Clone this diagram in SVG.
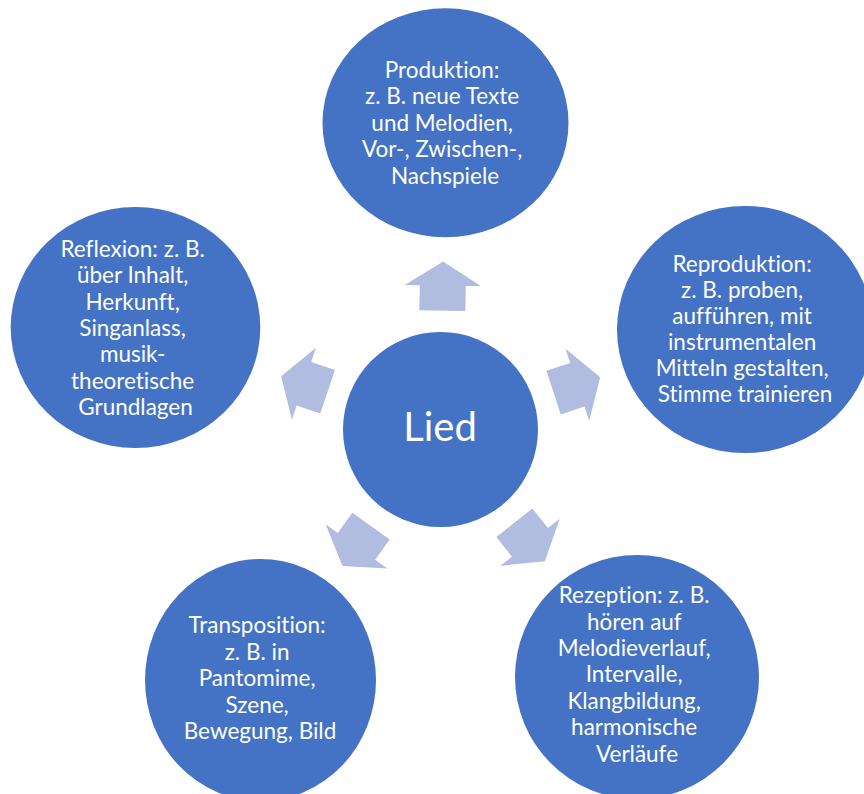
<svg xmlns="http://www.w3.org/2000/svg" width="864" height="794" viewBox="0 0 864 794">
  <defs>
    <style>
      .node { fill: #4472C4; }
      .arrow { fill: #B0BDE0; }
      .label { fill: #FFFFFF; font-family: Lato, "Open Sans", sans-serif; font-size: 22.5px; text-anchor: middle; font-variant-ligatures: none; }
      .hub { fill: #FFFFFF; font-family: Lato, "Open Sans", sans-serif; font-size: 40px; text-anchor: middle; font-variant-ligatures: none; }
    </style>
    <!-- block arrow pointing along +x, base 119px and tip 168px from the hub centre -->
    <polygon id="spoke" points="119,-23 144,-23 144,-38 168,0 144,38 144,23 119,23"/>
  </defs>

  <!-- connectors: block arrows from the hub toward each outer node -->
  <g id="connectors" class="arrow" transform="translate(440.5,429.5)">
    <use href="#spoke" transform="rotate(-89.1)"/>
    <use href="#spoke" transform="rotate(-18.1)"/>
    <use href="#spoke" transform="rotate(51.6)"/>
    <use href="#spoke" transform="rotate(125.7)"/>
    <use href="#spoke" transform="rotate(198.5)"/>
  </g>

  <g id="lied">
    <circle class="node" cx="440.5" cy="429.5" r="97.5"/>
    <text class="hub" x="440" y="441">Lied</text>
  </g>

  <g id="produktion">
    <ellipse class="node" cx="445.5" cy="122.8" rx="123" ry="114.5"/>
    <text class="label" x="445">
      <tspan x="445" y="78">Produktion:</tspan>
      <tspan x="445" y="104.4">z. B. neue Texte</tspan>
      <tspan x="445" y="130.8">und Melodien,</tspan>
      <tspan x="445" y="157.2">Vor-, Zwischen-,</tspan>
      <tspan x="445" y="183.6">Nachspiele</tspan>
    </text>
  </g>

  <g id="reproduktion">
    <ellipse class="node" cx="745" cy="329.5" rx="128" ry="123.5"/>
    <text class="label" x="745">
      <tspan x="745" y="271.7">Reproduktion:</tspan>
      <tspan x="745" y="297.8">z. B. proben,</tspan>
      <tspan x="745" y="323.8">aufführen, mit</tspan>
      <tspan x="745" y="349.9">instrumentalen</tspan>
      <tspan x="745" y="375.9">Mitteln gestalten,</tspan>
      <tspan x="745" y="402">Stimme trainieren</tspan>
    </text>
  </g>

  <g id="rezeption">
    <ellipse class="node" cx="637" cy="677" rx="122" ry="122"/>
    <text class="label" x="637">
      <tspan x="637" y="603.3">Rezeption: z. B.</tspan>
      <tspan x="637" y="629.7">hören auf</tspan>
      <tspan x="637" y="656">Melodieverlauf,</tspan>
      <tspan x="637" y="682.4">Intervalle,</tspan>
      <tspan x="637" y="708.8">Klangbildung,</tspan>
      <tspan x="637" y="735.2">harmonische</tspan>
      <tspan x="637" y="761.6">Verläufe</tspan>
    </text>
  </g>

  <g id="transposition">
    <ellipse class="node" cx="260.5" cy="680" rx="115.5" ry="121"/>
    <text class="label" x="260">
      <tspan x="260" y="633.3">Transposition:</tspan>
      <tspan x="260" y="659.8">z. B. in</tspan>
      <tspan x="260" y="686.3">Pantomime,</tspan>
      <tspan x="260" y="712.8">Szene,</tspan>
      <tspan x="260" y="739.3">Bewegung, Bild</tspan>
    </text>
  </g>

  <g id="reflexion">
    <ellipse class="node" cx="135.5" cy="327.5" rx="124.8" ry="120.5"/>
    <text class="label" x="135.5">
      <tspan x="135.5" y="256.7">Reflexion: z. B.</tspan>
      <tspan x="135.5" y="283.1">über Inhalt,</tspan>
      <tspan x="135.5" y="309.5">Herkunft,</tspan>
      <tspan x="135.5" y="335.9">Singanlass,</tspan>
      <tspan x="135.5" y="362.3">musik-</tspan>
      <tspan x="135.5" y="388.7">theoretische</tspan>
      <tspan x="135.5" y="415.1">Grundlagen</tspan>
    </text>
  </g>
</svg>
